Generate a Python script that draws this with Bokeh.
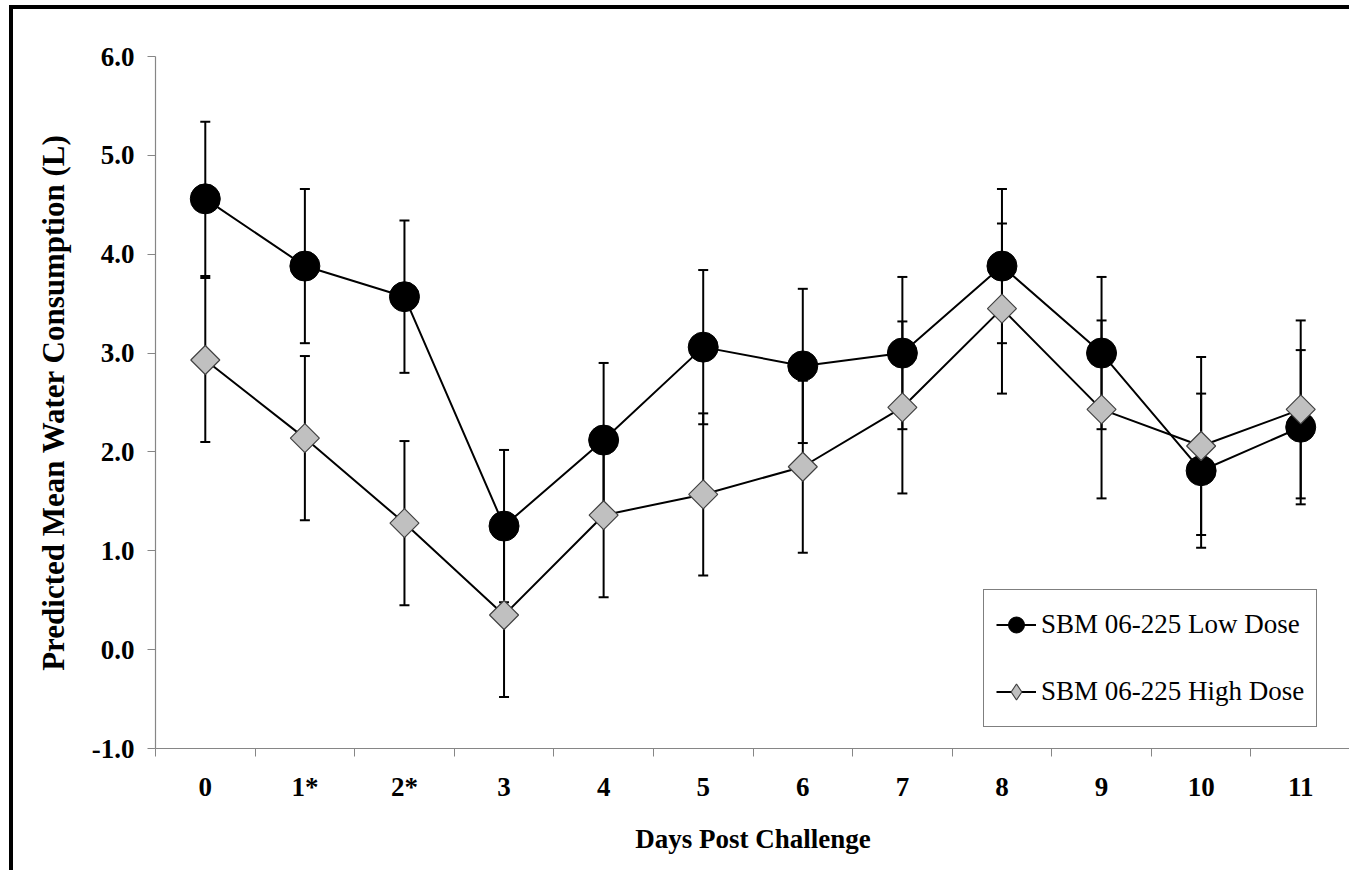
import math
from bokeh.plotting import figure
from bokeh.models import (Range1d, FixedTicker, Whisker, TeeHead, ColumnDataSource,
                          Legend, LegendItem, NumeralTickFormatter)
from bokeh.embed import file_html
from bokeh.resources import INLINE

days = ["0", "1*", "2*", "3", "4", "5", "6", "7", "8", "9", "10", "11"]
low_mean = [4.56, 3.88, 3.57, 1.25, 2.12, 3.06, 2.87, 3.00, 3.88, 3.00, 1.81, 2.25]
low_se = [0.78, 0.78, 0.77, 0.77, 0.78, 0.78, 0.78, 0.77, 0.78, 0.77, 0.78, 0.78]
high_mean = [2.93, 2.14, 1.28, 0.35, 1.36, 1.57, 1.85, 2.45, 3.45, 2.43, 2.06, 2.43]
high_se = [0.83, 0.83, 0.83, 0.83, 0.83, 0.82, 0.87, 0.87, 0.86, 0.90, 0.90, 0.90]
y_ticks = [-1, 0, 1, 2, 3, 4, 5, 6]

pos = [i + 0.5 for i in range(len(days))]

low_src = ColumnDataSource(dict(x=pos, y=low_mean,
                                up=[m + e for m, e in zip(low_mean, low_se)],
                                lo=[m - e for m, e in zip(low_mean, low_se)]))
high_src = ColumnDataSource(dict(x=pos, y=high_mean,
                                 up=[m + e for m, e in zip(high_mean, high_se)],
                                 lo=[m - e for m, e in zip(high_mean, high_se)]))

W, H = 1340, 865
p = figure(width=W, height=H, output_backend="svg", toolbar_location=None,
           x_range=Range1d(0, len(days)), y_range=Range1d(-1, 6),
           min_border_left=142, min_border_right=3, min_border_top=47, min_border_bottom=126)
p.styles = {"border-left": "4px solid black", "border-top": "4px solid black",
            "margin-left": "9px", "margin-top": "5px"}
p.xgrid.visible = False
p.ygrid.visible = False
p.outline_line_color = None
p.background_fill_color = "white"
p.border_fill_color = "white"

AX = "#868686"
SERIF = "Liberation Serif"

# x axis
xa = p.xaxis[0]
xa.ticker = FixedTicker(ticks=pos, minor_ticks=list(range(len(days) + 1)))
xa.major_label_overrides = {pp: d for pp, d in zip(pos, days)}
xa.major_tick_out = 0
xa.major_tick_in = 0
xa.minor_tick_out = 8
xa.minor_tick_in = 0
xa.minor_tick_line_color = AX
xa.axis_line_color = AX
xa.axis_label = "Days Post Challenge"
xa.major_label_standoff = 15
xa.axis_label_standoff = 19

# y axis
ya = p.yaxis[0]
ya.ticker = FixedTicker(ticks=y_ticks, minor_ticks=[])
ya.formatter = NumeralTickFormatter(format="0.0")
ya.major_tick_out = 8
ya.major_tick_in = 0
ya.minor_tick_out = 0
ya.minor_tick_in = 0
ya.major_tick_line_color = AX
ya.axis_line_color = AX
ya.axis_label = "Predicted Mean Water Consumption (L)"
ya.major_label_standoff = 13
ya.axis_label_standoff = 18

for ax in (xa, ya):
    ax.major_label_text_font = SERIF
    ax.major_label_text_font_style = "bold"
    ax.major_label_text_font_size = "27px"
    ax.major_label_text_color = "black"
    ax.axis_label_text_font = SERIF
    ax.axis_label_text_font_style = "bold"
    ax.axis_label_text_font_size = "27px"
    ax.axis_label_text_color = "black"
    ax.axis_line_width = 1.2
ya.axis_label_text_font_size = "31px"

# error bars
for src in (low_src, high_src):
    wk = Whisker(source=src, base="x", upper="up", lower="lo", dimension="height",
                 line_color="black", line_width=2,
                 upper_head=TeeHead(size=10, line_width=2, line_color="black"),
                 lower_head=TeeHead(size=10, line_width=2, line_color="black"))
    p.add_layout(wk)

l1 = p.line("x", "y", source=low_src, line_color="black", line_width=2)
m1 = p.scatter("x", "y", source=low_src, marker="circle", size=30,
               fill_color="black", line_color="black")
l2 = p.line("x", "y", source=high_src, line_color="black", line_width=2)
m2 = p.scatter("x", "y", source=high_src, marker="square", angle=math.pi / 4, size=20.5,
               fill_color="#c0c0c0", line_color="#404040", line_width=1.2)
# legend-only diamond (the rotated square is not rotated inside legends)
m2_leg = p.scatter(x=[float("nan")], y=[float("nan")], marker="diamond",
                   fill_color="#c0c0c0", line_color="#404040", line_width=1.2)

legend = Legend(items=[LegendItem(label="SBM 06-225 Low Dose", renderers=[l1, m1]),
                       LegendItem(label="SBM 06-225 High Dose", renderers=[l2, m2_leg])],
                location=(828, 21))
legend.label_text_font = SERIF
legend.label_text_font_size = "27px"
legend.label_text_color = "black"
legend.border_line_color = "black"
legend.border_line_width = 1.5
legend.padding = 12
legend.margin = 0
legend.spacing = 22
legend.glyph_height = 45
legend.glyph_width = 40
legend.label_height = 30
legend.label_standoff = 5
legend.background_fill_alpha = 1
p.add_layout(legend, "center")

open("out.html", "w").write(file_html(p, INLINE))
